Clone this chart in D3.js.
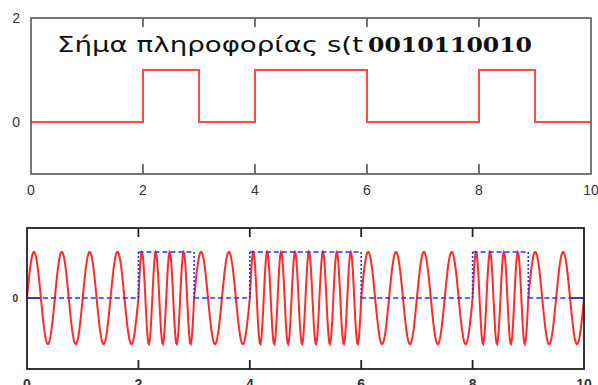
<!DOCTYPE html>
<html>
<head>
<meta charset="utf-8">
<script src="https://cdn.jsdelivr.net/npm/d3@7"></script>
<style>
  html, body { margin: 0; padding: 0; background: #fff; }
  svg { display: block; }
</style>
</head>
<body>
<div id="chart"></div>
<script>
// bit sequence of the information signal, one bit per time unit
const bits = [0, 0, 1, 0, 1, 1, 0, 0, 1, 0];
// carrier frequencies (cycles per time unit) for bit 0 / bit 1
const freqs = [2, 4];
const xTicks = [0, 2, 4, 6, 8, 10];
const topYTicks = [0, 2];
const bottomYTicks = [0];
const titleText = "Σήμα πληροφορίας s(t";
const bitText = bits.join("");

const W = 598, H = 385;
const svg = d3.select("#chart").append("svg")
  .attr("width", W)
  .attr("height", H);

// ---- top panel: information signal ----
const box1 = { left: 31, right: 591, top: 18, bottom: 174 };
const x1 = d3.scaleLinear().domain([0, 10]).range([box1.left, box1.right]);
const y1 = d3.scaleLinear().domain([-1, 2]).range([box1.bottom, box1.top]);

const stepData = bits.map((b, i) => [i, b]).concat([[bits.length, bits[bits.length - 1]]]);

svg.append("path")
  .datum(stepData)
  .attr("fill", "none")
  .attr("stroke", "#ff4a4a")
  .attr("stroke-width", 2)
  .attr("d", d3.line().x(d => x1(d[0])).y(d => y1(d[1])).curve(d3.curveStepAfter));

// frame
svg.append("rect")
  .attr("x", box1.left).attr("y", box1.top)
  .attr("width", box1.right - box1.left).attr("height", box1.bottom - box1.top)
  .attr("fill", "none").attr("stroke", "#555").attr("stroke-width", 1.6);

// inner ticks top and bottom
xTicks.slice(1, -1).forEach(t => {
  svg.append("line").attr("x1", x1(t)).attr("x2", x1(t))
    .attr("y1", box1.top).attr("y2", box1.top + 9)
    .attr("stroke", "#555").attr("stroke-width", 1.6);
  svg.append("line").attr("x1", x1(t)).attr("x2", x1(t))
    .attr("y1", box1.bottom).attr("y2", box1.bottom - 10)
    .attr("stroke", "#555").attr("stroke-width", 1.6);
});

svg.selectAll(".xl1").data(xTicks).enter().append("text")
  .attr("x", d => x1(d)).attr("y", 195)
  .attr("text-anchor", "middle")
  .style("font", "14px 'Liberation Sans', Arial, sans-serif")
  .style("fill", "#333")
  .text(d => d);

svg.selectAll(".yl1").data(topYTicks).enter().append("text")
  .attr("x", 20).attr("y", d => y1(d) + 5)
  .attr("text-anchor", "end")
  .style("font", "14px 'Liberation Sans', Arial, sans-serif")
  .style("fill", "#333")
  .text(d => d);

// title (its closing parenthesis is hidden under the bit string)
svg.append("text")
  .attr("x", 57).attr("y", 51.5)
  .attr("textLength", 306)
  .attr("lengthAdjust", "spacingAndGlyphs")
  .style("font", "21px 'DejaVu Sans', Verdana, sans-serif")
  .style("fill", "#111")
  .text(titleText);

svg.append("text")
  .attr("x", 368).attr("y", 52)
  .attr("textLength", 164)
  .attr("lengthAdjust", "spacingAndGlyphs")
  .style("font", "bold 20px 'DejaVu Serif', serif")
  .style("fill", "#111")
  .text(bitText);

// ---- bottom panel: FSK signal ----
const box2 = { left: 27, right: 584, top: 228, bottom: 369 };
const x2 = d3.scaleLinear().domain([0, 10]).range([box2.left, box2.right]);
const y2 = d3.scaleLinear().domain([-1.54, 1.52]).range([box2.bottom, box2.top]);

const fsk = d3.range(0, 10.0001, 0.01).map(t => {
  const b = bits[Math.min(Math.floor(t), bits.length - 1)];
  return [t, Math.sin(2 * Math.PI * freqs[b] * t)];
});

// y tick at 0 (both sides)
bottomYTicks.forEach(v => {
  svg.append("line").attr("x1", box2.left).attr("x2", box2.left + 15)
    .attr("y1", y2(v)).attr("y2", y2(v)).attr("stroke", "#111").attr("stroke-width", 1.5);
  svg.append("line").attr("x1", box2.right - 15).attr("x2", box2.right)
    .attr("y1", y2(v)).attr("y2", y2(v)).attr("stroke", "#111").attr("stroke-width", 1.5);
});

svg.append("path")
  .datum(fsk)
  .attr("fill", "none")
  .attr("stroke", "#ff2a2a")
  .attr("stroke-width", 2)
  .attr("d", d3.line().x(d => x2(d[0])).y(d => y2(d[1])));

// bit signal: dashed horizontals, dotted verticals
bits.forEach((b, i) => {
  svg.append("line")
    .attr("x1", x2(i)).attr("x2", x2(i + 1))
    .attr("y1", y2(b)).attr("y2", y2(b))
    .attr("stroke", "#2233ff").attr("stroke-width", 1.4)
    .attr("stroke-dasharray", "5,3");
  if (i > 0 && bits[i - 1] !== b) {
    svg.append("line")
      .attr("x1", x2(i)).attr("x2", x2(i))
      .attr("y1", y2(bits[i - 1])).attr("y2", y2(b))
      .attr("stroke", "#2233ff").attr("stroke-width", 1.6)
      .attr("stroke-dasharray", "2,2");
  }
});

svg.append("rect")
  .attr("x", box2.left).attr("y", box2.top)
  .attr("width", box2.right - box2.left).attr("height", box2.bottom - box2.top)
  .attr("fill", "none").attr("stroke", "#222").attr("stroke-width", 1.8);

xTicks.slice(1, -1).forEach(t => {
  svg.append("line").attr("x1", x2(t)).attr("x2", x2(t))
    .attr("y1", box2.top).attr("y2", box2.top + 9)
    .attr("stroke", "#222").attr("stroke-width", 1.8);
  svg.append("line").attr("x1", x2(t)).attr("x2", x2(t))
    .attr("y1", box2.bottom).attr("y2", box2.bottom - 9)
    .attr("stroke", "#222").attr("stroke-width", 1.8);
});

// bottom tick labels are cut by the lower edge, as in the reference
svg.selectAll(".xl2").data(xTicks).enter().append("text")
  .attr("x", d => x2(d)).attr("y", 389)
  .attr("text-anchor", "middle")
  .style("font", "bold 14px 'Liberation Sans', Arial, sans-serif")
  .style("fill", "#333")
  .text(d => d);

svg.selectAll(".yl2").data(bottomYTicks).enter().append("text")
  .attr("x", 18).attr("y", d => y2(d) + 4)
  .attr("text-anchor", "end")
  .style("font", "bold 10px 'Liberation Sans', Arial, sans-serif")
  .style("fill", "#333")
  .text(d => d);
</script>
</body>
</html>
